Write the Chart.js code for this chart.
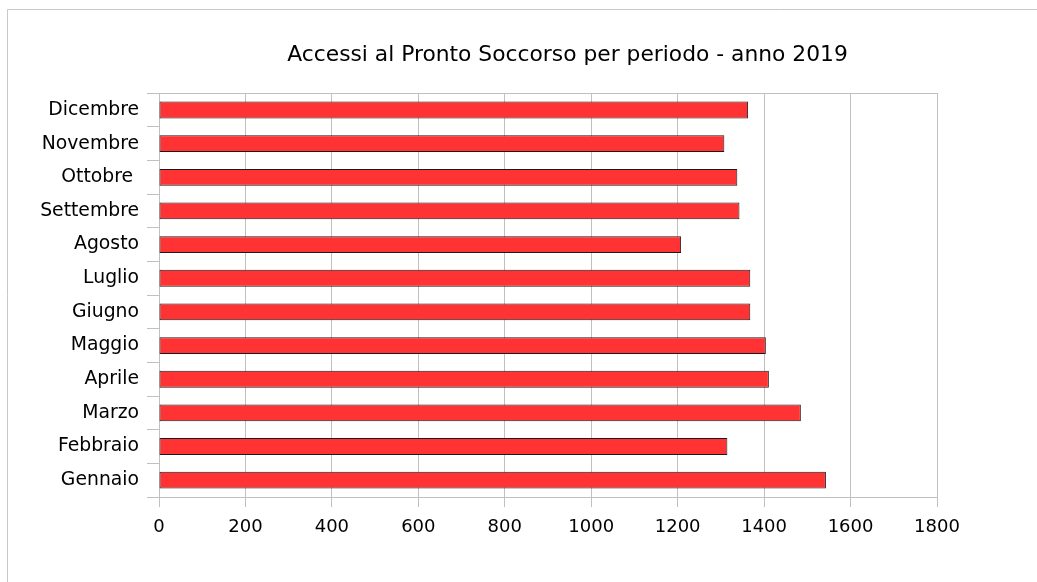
<!DOCTYPE html>
<html>
<head>
<meta charset="utf-8">
<script src="https://cdn.jsdelivr.net/npm/chart.js@4/dist/chart.umd.min.js"></script>
<style>
  html, body { margin: 0; padding: 0; background: #ffffff; overflow: hidden; }
  canvas { display: block; }
</style>
</head>
<body>
<canvas id="c" width="1037" height="582"></canvas>
<script>
const titleText = "Accessi al Pronto Soccorso per periodo - anno 2019";
const months = ["Gennaio", "Febbraio", "Marzo", "Aprile", "Maggio", "Giugno",
                "Luglio", "Agosto", "Settembre", "Ottobre ", "Novembre", "Dicembre"];
const accessi = [1543, 1315, 1485, 1411, 1404, 1368, 1368, 1208, 1343, 1338, 1308, 1363];
const xTicks = [0, 200, 400, 600, 800, 1000, 1200, 1400, 1600, 1800];

const gridColor = "#c0c0c0";

const frame = {
  id: "frame",
  beforeDraw(chart) {
    const ctx = chart.ctx;
    ctx.save();
    ctx.strokeStyle = "#c8c8c8";
    ctx.lineWidth = 1;
    ctx.beginPath();
    ctx.moveTo(7.5, chart.height);
    ctx.lineTo(7.5, 9.5);
    ctx.lineTo(chart.width, 9.5);
    ctx.stroke();
    ctx.restore();
  }
};

const plotBorder = {
  id: "plotBorder",
  beforeDatasetsDraw(chart) {
    const a = chart.chartArea, ctx = chart.ctx;
    ctx.save();
    ctx.strokeStyle = gridColor;
    ctx.lineWidth = 1;
    ctx.strokeRect(Math.round(a.left) + 0.5, Math.round(a.top) + 0.5,
                   Math.round(a.right - a.left), Math.round(a.bottom - a.top));
    ctx.restore();
  }
};

const titleShift = {
  id: "titleShift",
  afterLayout(chart) {
    const t = chart.titleBlock;
    if (t) { t.left = 98; t.right = 1037; t.width = t.right - t.left; }
  }
};

new Chart(document.getElementById("c"), {
  type: "bar",
  data: {
    labels: months,
    datasets: [{
      data: accessi,
      backgroundColor: "#ff3333",
      borderColor: "#1a1a1a",
      borderWidth: 1,
      borderSkipped: false,
      categoryPercentage: 1.0,
      barPercentage: 0.5
    }]
  },
  options: {
    indexAxis: "y",
    responsive: false,
    animation: false,
    devicePixelRatio: 1,
    layout: { padding: { left: 0, right: 100, top: 0, bottom: 0 } },
    plugins: {
      legend: { display: false },
      tooltip: { enabled: false },
      title: {
        display: true,
        text: titleText,
        color: "#000000",
        font: { family: "DejaVu Sans", size: 21.8, weight: "normal" },
        padding: { top: 42, bottom: 25 }
      }
    },
    scales: {
      x: {
        type: "linear",
        min: 0,
        max: 1800,
        afterBuildTicks(scale) { scale.ticks = xTicks.map(v => ({ value: v })); },
        afterFit(scale) { scale.height = 85; },
        grid: { color: gridColor, tickColor: gridColor, tickLength: 10, drawTicks: true },
        border: { color: gridColor },
        ticks: {
          color: "#000000",
          padding: 10,
          maxRotation: 0,
          callback: (v) => String(v),
          font: { family: "DejaVu Sans", size: 18 }
        }
      },
      y: {
        reverse: true,
        offset: true,
        afterFit(scale) { scale.width = 159; },
        grid: { drawOnChartArea: false, drawTicks: true, tickLength: 12, color: gridColor, tickColor: gridColor, offset: true },
        border: { color: gridColor },
        ticks: {
          color: "#000000",
          padding: 8,
          autoSkip: false,
          font: { family: "DejaVu Sans", size: 18.8 }
        }
      }
    }
  },
  plugins: [frame, plotBorder, titleShift]
});
</script>
</body>
</html>
